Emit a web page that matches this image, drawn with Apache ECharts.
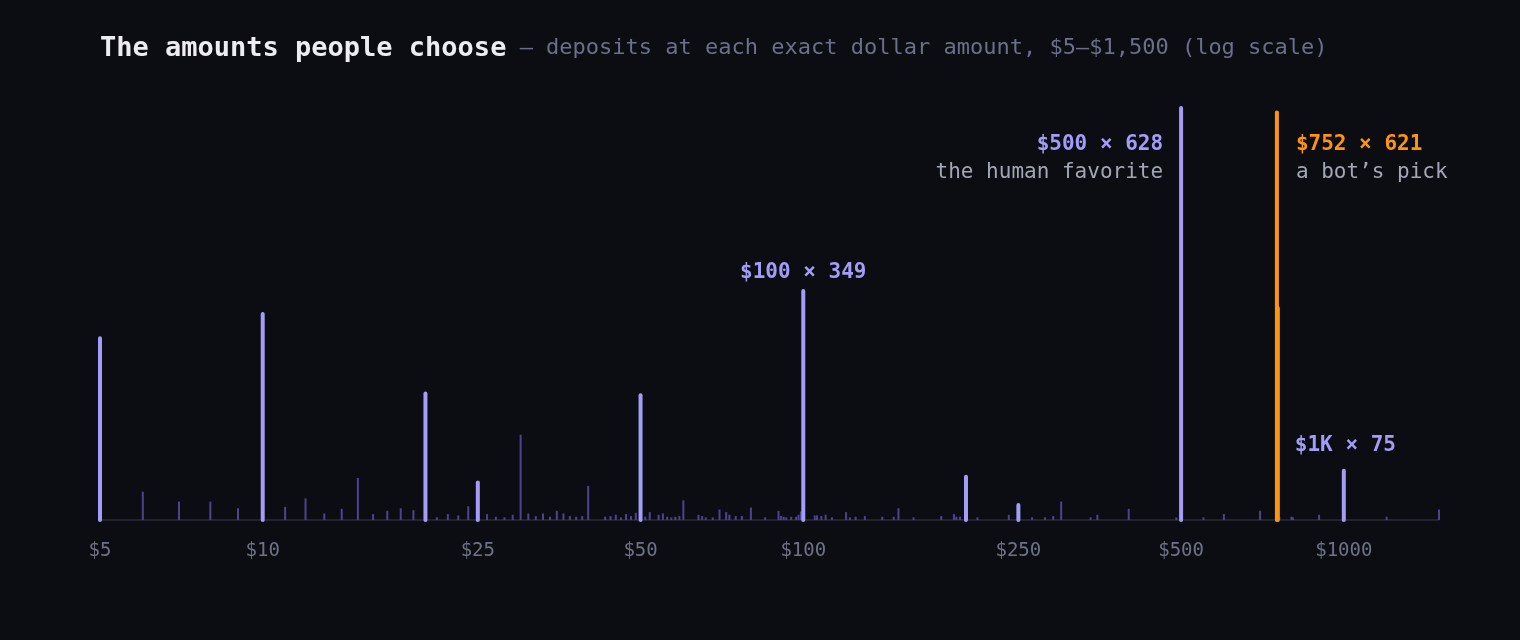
<!DOCTYPE html>
<html>
<head>
<meta charset="utf-8">
<script src="https://cdn.jsdelivr.net/npm/echarts@6/dist/echarts.min.js"></script>
<style>
  html, body { margin: 0; padding: 0; background: #0b0d12; }
  #chart { width: 1520px; height: 640px; }
</style>
</head>
<body>
<div id="chart"></div>
<script>
// round amounts people like (highlighted)
const majorAmounts = [5, 10, 20, 25, 50, 100, 200, 250, 500, 1000]
const majorCounts  = [277, 314, 193, 57, 190, 349, 66, 23, 628, 75]

// the bot's amounts
const botAmounts = [752, 755]
const botCounts  = [621, 323]

// everything else
const minorAmounts = [6, 7, 8, 9, 11, 12, 13, 14, 15, 16, 17, 18, 19, 21, 22, 23, 24,
  26, 27, 28, 29, 30, 31, 32, 33, 34, 35, 36, 37, 38, 39, 40, 43, 44, 45, 46, 47, 48, 49,
  51, 52, 54, 55, 56, 57, 58, 59, 60, 64, 65, 66, 68, 70, 72, 73, 75, 77, 80, 85, 90, 91,
  92, 93, 95, 97, 98, 99, 105, 106, 108, 110, 113, 120, 122, 125, 130, 140, 147, 150, 160,
  180, 190, 192, 195, 210, 240, 265, 280, 290, 300, 340, 350, 400, 490, 550, 600, 700, 760,
  800, 805, 900, 1200, 1500]
const minorCounts = [43, 28, 28, 18, 20, 33, 10, 17, 64, 9, 14, 18, 15, 4, 9, 7, 21,
  9, 5, 4, 8, 130, 10, 6, 10, 5, 14, 10, 6, 5, 6, 52, 5, 6, 8, 4, 9, 6, 11,
  5, 12, 8, 10, 5, 4, 5, 6, 30, 8, 6, 4, 4, 16, 12, 8, 6, 6, 19, 4, 14, 6,
  5, 4, 5, 5, 8, 13, 7, 7, 6, 8, 4, 12, 4, 5, 6, 5, 5, 18, 4,
  6, 9, 5, 5, 4, 8, 4, 4, 6, 28, 4, 8, 17, 4, 4, 9, 14, 5,
  5, 4, 8, 5, 16]

const tickValues = [5, 10, 25, 50, 100, 250, 500, 1000]

const noteAmounts = [100, 500, 752, 1000]
const noteCounts  = [349, 628, 621, 75]
const noteTitles  = ['$100 × 349', '$500 × 628', '$752 × 621', '$1K × 75']
const noteSubs    = ['', 'the human favorite', 'a bot’s pick', '']

const MONO = '"DejaVu Sans Mono", monospace'
const LAVENDER = '#a49cf6'
const ORANGE = '#ff9410'
const noteColors = [LAVENDER, LAVENDER, ORANGE, LAVENDER]
// where each note sits relative to its bar top: dx, dy, align
const notePlace = [
    { dx: 0, dy: -18, align: 'center' },
    { dx: -18, dy: 37, align: 'right' },
    { dx: 19, dy: 32, align: 'left' },
    { dx: -49, dy: -25, align: 'left' }
]

const stems = (name, amounts, counts, color, width, cap) => ({
    type: 'custom',
    name,
    clip: false,
    data: amounts.map((a, i) => [a, counts[i]]),
    renderItem: (params, api) => {
        const p0 = api.coord([api.value(0), 0])
        const p1 = api.coord([api.value(0), api.value(1)])
        return {
            type: 'line',
            shape: { x1: p0[0], y1: p0[1], x2: p1[0], y2: p1[1] },
            style: { stroke: color, lineWidth: width, lineCap: cap }
        }
    }
})

const chart = echarts.init(document.getElementById('chart'))
const option = {
    backgroundColor: '#0b0d12',
    animation: false,
    title: {
        left: 95,
        top: 30,
        text: '{a|The amounts people choose}{b| — deposits at each exact dollar amount, $5–$1,500 (log scale)}',
        textStyle: {
            rich: {
                a: { fontFamily: MONO, fontSize: 27, fontWeight: 'bold', color: '#ececf2' },
                b: { fontFamily: MONO, fontSize: 22, fontWeight: 'normal', color: '#6b6f88' }
            }
        }
    },
    grid: { left: 100, right: 81, top: 108, bottom: 120 },
    xAxis: {
        type: 'log',
        logBase: 10,
        min: 5,
        max: 1500,
        splitLine: { show: false },
        axisLine: { show: true, lineStyle: { color: '#2a2d3b', width: 1.5 } },
        axisTick: { show: false },
        minorTick: { show: false },
        axisLabel: {
            customValues: tickValues,
            formatter: v => '$' + Math.round(v),
            fontFamily: MONO,
            fontSize: 19,
            color: '#6e7287',
            margin: 22
        }
    },
    yAxis: {
        type: 'value',
        min: 0,
        max: 628,
        show: false,
        splitLine: { show: false }
    },
    series: [
        stems('other', minorAmounts, minorCounts, '#4c4392', 2, 'butt'),
        stems('round', majorAmounts, majorCounts, LAVENDER, 4, 'round'),
        stems('bot', botAmounts.slice().reverse(), botCounts.slice().reverse(), ORANGE, 4, 'round'),
        {
            type: 'custom',
            name: 'notes',
            clip: false,
            data: noteAmounts.map((a, i) => [a, noteCounts[i]]),
            renderItem: (params, api) => {
                const i = params.dataIndex
                const p = api.coord([api.value(0), api.value(1)])
                const pl = notePlace[i]
                const kids = [{
                    type: 'text',
                    style: {
                        text: noteTitles[i], x: p[0] + pl.dx, y: p[1] + pl.dy,
                        fill: noteColors[i], font: 'bold 21px ' + MONO,
                        align: pl.align, verticalAlign: 'middle'
                    }
                }]
                if (noteSubs[i]) {
                    kids.push({
                        type: 'text',
                        style: {
                            text: noteSubs[i], x: p[0] + pl.dx, y: p[1] + pl.dy + 28,
                            fill: '#a3a6b4', font: '21px ' + MONO,
                            align: pl.align, verticalAlign: 'middle'
                        }
                    })
                }
                return { type: 'group', children: kids }
            }
        }
    ]
}
chart.setOption(option)
</script>
</body>
</html>
